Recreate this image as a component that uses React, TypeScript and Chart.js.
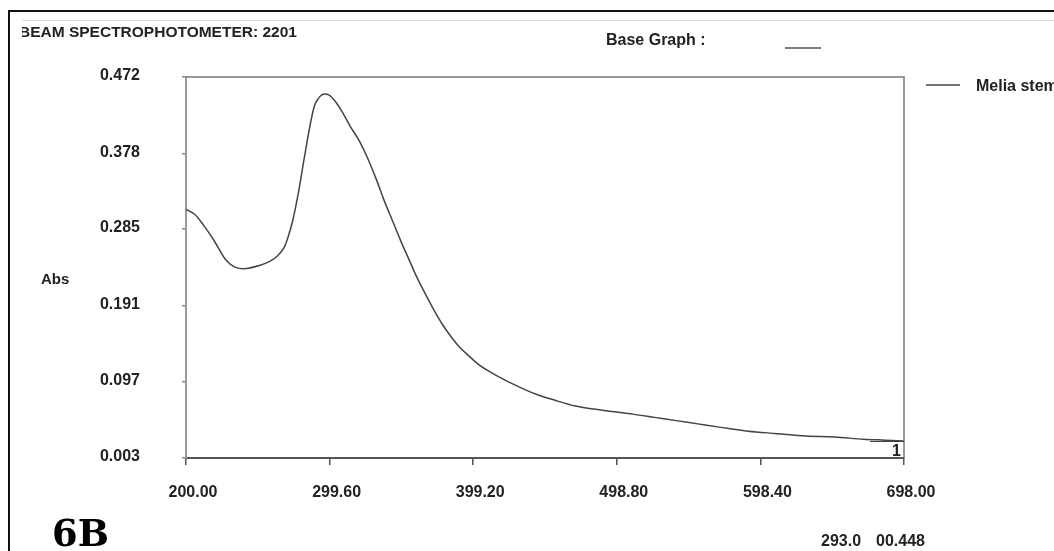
import React, { useEffect, useRef } from "react";
import { Chart, registerables } from "chart.js";

Chart.register(...registerables);

// ---- data ----
const wavelengths = [
  200, 206, 212, 219, 228, 234, 240, 251, 258, 263, 268, 271, 274, 278, 282, 286, 289, 292, 296, 299,
  304, 309, 314, 320, 326, 332, 337, 343, 349, 355, 360, 366, 372, 378, 384, 390, 396, 403, 410, 418,
  428, 442, 456, 470, 484, 497, 510, 525, 540, 555, 570, 590, 610, 630, 650, 670, 685, 698,
];
const absorbance = [
  0.309, 0.303, 0.29, 0.272, 0.246, 0.238, 0.236, 0.24, 0.245, 0.251, 0.262, 0.276, 0.295, 0.33, 0.372, 0.412, 0.436, 0.446, 0.451, 0.45,
  0.441, 0.427, 0.411, 0.394, 0.372, 0.346, 0.322, 0.296, 0.27, 0.246, 0.226, 0.205, 0.185, 0.167, 0.152, 0.139, 0.129, 0.118, 0.11, 0.102,
  0.093, 0.082, 0.074, 0.067, 0.063, 0.06, 0.057, 0.053, 0.049, 0.045, 0.041, 0.036, 0.033, 0.03, 0.029, 0.026, 0.025, 0.024,
];
const xTickValues = [200, 299.6, 399.2, 498.8, 598.4, 698];
const xTickLabels = ["200.00", "299.60", "399.20", "498.80", "598.40", "698.00"];
const yTickValues = [0.003, 0.097, 0.191, 0.285, 0.378, 0.472];
const yTickLabels = ["0.003", "0.097", "0.191", "0.285", "0.378", "0.472"];
const seriesLabel = "Melia stem";
const titleText = "BEAM SPECTROPHOTOMETER: 2201";
const baseGraphText = "Base Graph :";
const yAxisTitle = "Abs";
const curveNumber = "1";
const readoutWavelength = "293.0";
const readoutAbs = "00.448";
const panelLabel = "6B";

const FONT = '"Liberation Sans", Arial, sans-serif';
const TEXT = "#222";

const decorPlugin = {
  id: "decor",
  beforeDraw(chart: any) {
    const ctx = chart.ctx;
    ctx.save();
    ctx.fillStyle = "#fff";
    ctx.fillRect(0, 0, chart.width, chart.height);
    ctx.restore();
  },
  afterDraw(chart: any) {
    const ctx = chart.ctx;
    const a = chart.chartArea;
    ctx.save();
    // outer black frame
    ctx.strokeStyle = "#111";
    ctx.lineWidth = 2;
    ctx.beginPath();
    ctx.moveTo(9, chart.height);
    ctx.lineTo(9, 11);
    ctx.lineTo(chart.width, 11);
    ctx.stroke();
    // thin grey rule under frame
    ctx.strokeStyle = "#dcdcdc";
    ctx.lineWidth = 1;
    ctx.beginPath();
    ctx.moveTo(22, 20.5);
    ctx.lineTo(chart.width, 20.5);
    ctx.stroke();

    // top and right plot frame
    ctx.strokeStyle = "#777";
    ctx.lineWidth = 1.5;
    ctx.beginPath();
    ctx.moveTo(a.left, a.top);
    ctx.lineTo(a.right, a.top);
    ctx.lineTo(a.right, a.bottom);
    ctx.stroke();

    // title (clipped at left)
    ctx.save();
    ctx.beginPath();
    ctx.rect(22, 21, 600, 30);
    ctx.clip();
    ctx.fillStyle = TEXT;
    ctx.font = `bold 15.5px ${FONT}`;
    ctx.textBaseline = "alphabetic";
    ctx.textAlign = "left";
    ctx.fillText(titleText, 19, 37);
    ctx.restore();

    ctx.fillStyle = TEXT;
    ctx.font = `bold 16px ${FONT}`;
    ctx.textBaseline = "alphabetic";
    ctx.textAlign = "left";
    ctx.fillText(baseGraphText, 606, 45);
    ctx.strokeStyle = "#555";
    ctx.lineWidth = 1.5;
    ctx.beginPath();
    ctx.moveTo(785, 48);
    ctx.lineTo(821, 48);
    ctx.stroke();

    // legend
    const ds = chart.data.datasets[0];
    ctx.strokeStyle = "#444";
    ctx.lineWidth = 1.5;
    ctx.beginPath();
    ctx.moveTo(926, 85);
    ctx.lineTo(960, 85);
    ctx.stroke();
    ctx.fillText(ds.label, 976, 91);

    // y axis title
    ctx.font = `bold 15px ${FONT}`;
    ctx.fillText(yAxisTitle, 41, 284);

    // curve number box
    ctx.strokeStyle = "#444";
    ctx.lineWidth = 1;
    ctx.beginPath();
    ctx.moveTo(870, 441.5);
    ctx.lineTo(a.right, 441.5);
    ctx.stroke();
    ctx.font = `bold 16px ${FONT}`;
    ctx.textAlign = "right";
    ctx.fillText(curveNumber, a.right - 3, 456);

    // readout
    ctx.textAlign = "left";
    ctx.fillText(readoutWavelength, 821, 546);
    ctx.fillText(readoutAbs, 876, 546);

    // panel label
    ctx.fillStyle = "#000";
    ctx.font = `bold 37px "DejaVu Serif", "Liberation Serif", serif`;
    ctx.fillText(panelLabel, 52, 546);
    ctx.restore();
  },
};

export default function App() {
  const ref = useRef<HTMLCanvasElement | null>(null);

  useEffect(() => {
    if (!ref.current) return;
    const points = wavelengths.map((x, i) => ({ x, y: absorbance[i] }));
    const chart = new Chart(ref.current, {
      type: "line",
      data: {
        datasets: [
          {
            label: seriesLabel,
            data: points,
            borderColor: "#444",
            borderWidth: 1.5,
            pointRadius: 0,
            fill: false,
            cubicInterpolationMode: "monotone",
          },
        ],
      },
      options: {
        animation: false,
        responsive: false,
        devicePixelRatio: 1,
        layout: { padding: { left: 0, top: 77, right: 150, bottom: 0 } },
        plugins: {
          legend: { display: false },
          tooltip: { enabled: false },
          title: { display: false },
        },
        scales: {
          x: {
            type: "linear",
            min: 200,
            max: 698,
            afterBuildTicks: (scale: any) => {
              scale.ticks = xTickValues.map((v) => ({ value: v }));
            },
            afterFit: (scale: any) => {
              scale.height = 93;
            },
            ticks: {
              callback: (_v: any, i: number) => xTickLabels[i],
              font: { family: FONT, size: 16, weight: "bold" },
              color: TEXT,
              padding: 18,
              labelOffset: 7,
              maxRotation: 0,
              autoSkip: false,
            },
            grid: {
              drawOnChartArea: false,
              drawTicks: true,
              tickLength: 7,
              color: "#555",
              lineWidth: 1.5,
            },
            border: { display: true, color: "#555", width: 2 },
          },
          y: {
            type: "linear",
            min: 0.003,
            max: 0.472,
            afterBuildTicks: (scale: any) => {
              scale.ticks = yTickValues.map((v) => ({ value: v }));
            },
            afterFit: (scale: any) => {
              scale.width = 186;
            },
            ticks: {
              callback: (_v: any, i: number) => yTickLabels[i],
              font: { family: FONT, size: 16, weight: "bold" },
              color: TEXT,
              padding: 42,
              labelOffset: -1,
              autoSkip: false,
            },
            grid: {
              drawOnChartArea: false,
              drawTicks: true,
              tickLength: 4,
              color: "#888",
              lineWidth: 1.5,
            },
            border: { display: true, color: "#999", width: 2 },
          },
        },
      },
      plugins: [decorPlugin],
    } as any);
    return () => chart.destroy();
  }, []);

  return (
    <div style={{ position: "absolute", left: 0, top: 0, width: 1054, height: 551, background: "#fff", overflow: "hidden" }}>
      <canvas ref={ref} width={1054} height={551} style={{ display: "block" }} />
    </div>
  );
}
